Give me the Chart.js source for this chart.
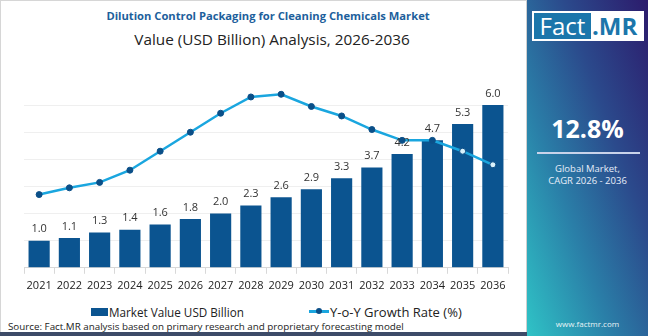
<!DOCTYPE html>
<html>
<head>
<meta charset="utf-8">
<script src="https://cdn.jsdelivr.net/npm/chart.js@4.4.1/dist/chart.umd.min.js"></script>
<style>
  body { margin: 0; width: 650px; height: 336px; overflow: hidden; background: #fff; font-family: "Open Sans", sans-serif; }
  #left { position: absolute; left: 0; top: 0; width: 525px; height: 331px; border: 1px solid #d6d6d6; border-right: 1px solid #cfcfcf; box-sizing: content-box; }
  #bottomBar { position: absolute; left: 0; top: 332px; width: 527px; height: 4px; background: #3d4b68; }
  #title { position: absolute; left: 0; width: 536px; top: 8px; text-align: center; font: bold 11.2px "Open Sans", sans-serif; color: #1d5f9c; }
  #subtitle { position: absolute; left: 0; width: 544px; top: 29px; text-align: center; font: 15.3px "Open Sans", sans-serif; color: #222; }
  #chartBox { position: absolute; left: 0; top: 55px; width: 520px; height: 242px; }
  #legend { position: absolute; top: 303px; left: 0; width: 520px; color: #222; }
  .lg { position: absolute; top: 0; white-space: nowrap; }
  .box { display: inline-block; width: 17px; height: 8px; background: #0b5490; vertical-align: 1px; margin-right: 1px; }
  .ln { display: inline-block; position: relative; width: 20px; height: 3px; background: #1aa6df; vertical-align: 4px; margin-right: 1px; }
  .ln i { position: absolute; left: 7px; top: -2px; width: 6px; height: 6px; border-radius: 50%; background: #0b4f88; }
  #source { position: absolute; left: 8px; top: 320px; font: 9.8px "Open Sans", sans-serif; color: #222; }
  #panel { position: absolute; left: 527px; top: 0; width: 121px; height: 336px;
           background: linear-gradient(to top right, #2fc3c6 0%, #2a7fa8 35%, #2b4a8c 65%, #2c1b6c 100%); }
  #logo { position: absolute; left: 5px; top: 11px; width: 112px; height: 30px; background: #fff; }
  #logo .f { position: absolute; left: 2px; top: 2px; width: 57px; height: 26px; background: #1b76ab; color: #fff; font: 24px "Open Sans", sans-serif; line-height: 26px; text-align: center; }
  #logo .m { position: absolute; left: 60px; top: 2px; color: #1b76ab; font: bold 24px "Open Sans", sans-serif; line-height: 26px; }
  #cagr { position: absolute; left: 0; width: 121px; top: 111px; text-align: center; color: #fff; font: bold 25px "Open Sans", sans-serif; }
  #rule { position: absolute; left: 10px; width: 103px; top: 152px; height: 2px; background: #c9d3ea; }
  #glob { position: absolute; left: 0; width: 121px; top: 163px; text-align: center; color: #e8eefa; font: 9.5px "Open Sans", sans-serif; line-height: 12px; }
  #www { position: absolute; left: 0; width: 121px; top: 318px; text-align: center; color: #e8f4f6; font: 8px "Open Sans", sans-serif; }
</style>
</head>
<body>
<div id="left"></div>
<div id="bottomBar"></div>
<div id="title">Dilution Control Packaging for Cleaning Chemicals Market</div>
<div id="subtitle">Value (USD Billion) Analysis, 2026-2036</div>
<div id="chartBox"><canvas id="myChart"></canvas></div>
<div id="legend">
  <span class="lg" style="left:91px; font: 11.7px 'Open Sans', sans-serif; top:1px"><span class="box"></span>Market Value USD Billion</span>
  <span class="lg" style="left:309px; font: 13px 'Open Sans', sans-serif"><span class="ln"><i></i></span>Y-o-Y Growth Rate (%)</span>
</div>
<div id="source">Source: Fact.MR analysis based on primary research and proprietary forecasting model</div>
<div id="panel">
  <div id="logo"><span class="f">Fact</span><span class="m">.MR</span></div>
  <div id="cagr">12.8%</div>
  <div id="rule"></div>
  <div id="glob">Global Market,<br>CAGR 2026 - 2036</div>
  <div id="www">www.factmr.com</div>
</div>
<script>
var years = ["2021", "2022", "2023", "2024", "2025", "2026", "2027", "2028", "2029", "2030", "2031", "2032", "2033", "2034", "2035", "2036"];
var marketValue = [1.0, 1.1, 1.3, 1.4, 1.6, 1.8, 2.0, 2.3, 2.6, 2.9, 3.3, 3.7, 4.2, 4.7, 5.3, 6.0];
var growthRate = [5.4, 5.9, 6.3, 7.2, 8.6, 10.0, 11.4, 12.6, 12.8, 11.9, 11.2, 10.2, 9.4, 9.4, 8.6, 7.6];

var pointFill = growthRate.map(function(v, i) { return i >= 14 ? '#d9f1fb' : '#0b4f88'; });

var barLabels = {
  id: 'barLabels',
  afterDatasetsDraw: function(chart) {
    var ctx = chart.ctx;
    var meta = chart.getDatasetMeta(1);
    ctx.save();
    ctx.font = '11px "Open Sans", sans-serif';
    ctx.fillStyle = '#333';
    ctx.textAlign = 'center';
    ctx.textBaseline = 'bottom';
    meta.data.forEach(function(bar, i) {
      ctx.fillText(marketValue[i].toFixed(1), bar.x, bar.y - 6);
    });
    ctx.restore();
  }
};

var ctx = document.getElementById('myChart');
new Chart(ctx, {
  data: {
    labels: years,
    datasets: [{
      type: 'line',
      label: 'Y-o-Y Growth Rate (%)',
      data: growthRate,
      yAxisID: 'y1',
      borderColor: '#1aa6df',
      borderWidth: 2.5,
      pointRadius: 3,
      pointBackgroundColor: pointFill,
      pointBorderColor: '#0b4f88',
      pointBorderWidth: 1,
      tension: 0,
      order: 0
    }, {
      type: 'bar',
      label: 'Market Value USD Billion',
      data: marketValue,
      yAxisID: 'y',
      backgroundColor: '#0b5490',
      categoryPercentage: 1,
      barPercentage: 0.7,
      order: 1
    }]
  },
  options: {
    responsive: true,
    maintainAspectRatio: false,
    animation: false,
    layout: { padding: { left: 24, right: 12, top: 23, bottom: 0 } },
    plugins: { legend: { display: false }, tooltip: { enabled: false } },
    scales: {
      x: {
        offset: true,
        grid: { offset: true, drawOnChartArea: false, drawTicks: true, tickLength: 6, color: '#d8d8d8' },
        border: { color: '#d8d8d8' },
        ticks: { color: '#222', font: { size: 11, family: '"Open Sans", sans-serif' }, padding: 5, maxRotation: 0, autoSkip: false }
      },
      y: {
        min: 0, max: 7,
        ticks: { display: false, stepSize: 1 },
        border: { display: false },
        grid: {
          drawTicks: false,
          color: function(c) { return (c.tick.value === 7 || c.tick.value === 0) ? 'rgba(0,0,0,0)' : '#efefef'; }
        }
      },
      y1: { display: false, min: 0, max: 14 }
    }
  },
  plugins: [barLabels]
});
</script>
</body>
</html>
